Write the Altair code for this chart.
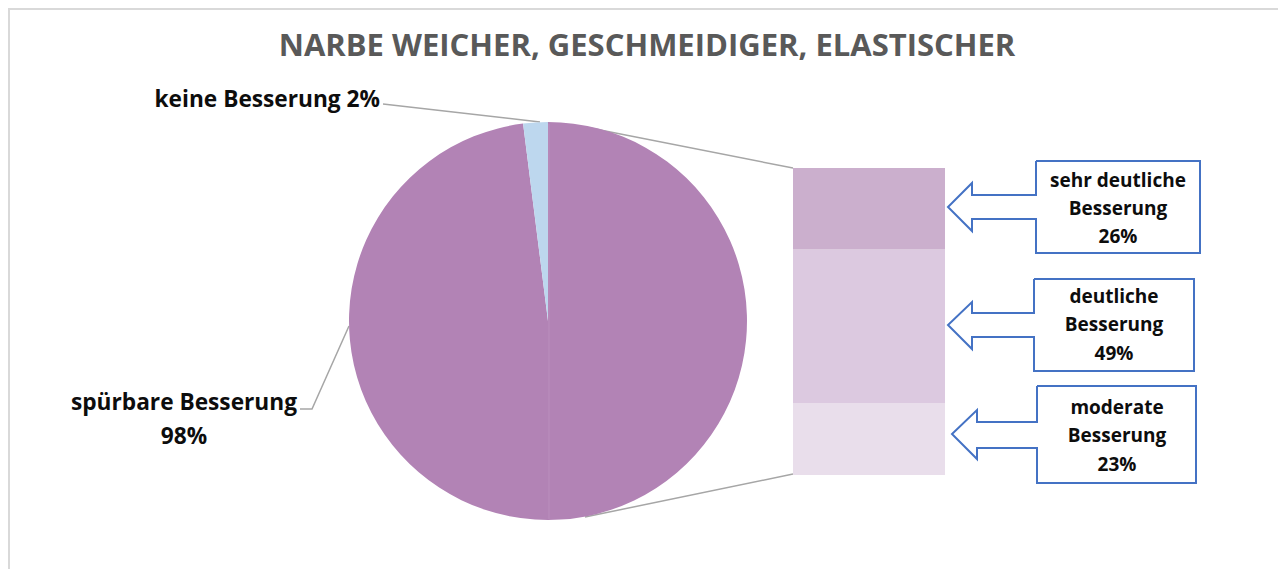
import altair as alt
import pandas as pd

# ---------------- data ----------------
title_text = "NARBE WEICHER, GESCHMEIDIGER, ELASTISCHER"

pie_cats = ["spürbare Besserung", "keine Besserung"]
pie_vals = [98, 2]
pie_colors = ["#B283B5", "#BDD7EE"]

bar_cats = ["moderate Besserung", "deutliche Besserung", "sehr deutliche Besserung"]
bar_vals = [23, 49, 26]
bar_colors = ["#E9DEEB", "#DCC9E0", "#CBAFCD"]

callout_lines = [
    ["sehr deutliche", "Besserung", "26%"],
    ["deutliche", "Besserung", "49%"],
    ["moderate", "Besserung", "23%"],
]

FONT = "Open Sans"

# ---------------- layout helpers (pixel coordinates of the page) ----------------
def PX():
    return alt.Scale(domain=[8, 1278], range=[0, 1270], nice=False, zero=False)


def PY():
    return alt.Scale(domain=[8, 569], range=[0, 561], nice=False, zero=False)


def X(f):
    return alt.X(f"{f}:Q", scale=PX(), axis=None)


def Y(f):
    return alt.Y(f"{f}:Q", scale=PY(), axis=None)


# ---------------- pie ----------------
pie_df = pd.DataFrame({"cat": pie_cats, "value": pie_vals, "idx": [0, 1]})
pie = alt.Chart(pie_df).mark_arc(outerRadius=199).encode(
    theta=alt.Theta("value:Q", stack=True),
    color=alt.Color("cat:N", scale=alt.Scale(domain=pie_cats, range=pie_colors), legend=None),
    order=alt.Order("idx:Q"),
    x=alt.value(540),
    y=alt.value(313),
)

# ---------------- bar (breakdown of spürbare Besserung) ----------------
bar_df = pd.DataFrame({"cat": bar_cats, "value": bar_vals, "idx": [0, 1, 2]})
bar = alt.Chart(bar_df).transform_stack(
    stack="value", groupby=[], as_=["v0", "v1"], sort=[alt.SortField("idx", order="ascending")]
).mark_rect().encode(
    x=alt.value(785),
    x2=alt.value(937),
    y=alt.Y("v0:Q",
            scale=alt.Scale(domain=[0, sum(bar_vals)], range=[467, 160], nice=False, zero=True),
            axis=None),
    y2="v1:Q",
    color=alt.Color("cat:N", scale=alt.Scale(domain=bar_cats, range=bar_colors), legend=None),
)

# ---------------- grey leader / connector lines ----------------
grey_pts = [
    ("keine", [(383, 104), (540, 122)]),
    ("spuer", [(300, 409), (312, 409), (349, 326)]),
    ("up", [(585, 127), (793, 168)]),
    ("low", [(585, 517), (793, 474)]),
]
rows = []
for g, pts in grey_pts:
    for i, (a, b) in enumerate(pts):
        rows.append({"g": g, "o": i, "px": a, "py": b})
grey = alt.Chart(pd.DataFrame(rows)).mark_line(color="#A6A6A6", strokeWidth=1.5).encode(
    x=X("px"), y=Y("py"), detail="g:N", order="o:Q"
)

# faint seam down the middle of the pie
seam = alt.Chart(pd.DataFrame({"g": ["s", "s"], "o": [0, 1], "px": [549, 549], "py": [124, 519]})).mark_line(
    color="#BA8EBD", strokeWidth=1
).encode(x=X("px"), y=Y("py"), detail="g:N", order="o:Q")

# ---------------- callout boxes with arrows ----------------
boxes = [
    # l, t, r, b, shaft top, shaft bottom, head x, head top, head bottom, tip x, tip y
    (1036, 161, 1200, 253, 195, 219, 972, 183, 231, 948, 207),
    (1034, 279, 1194, 371, 313, 337, 972, 302, 349, 948, 325),
    (1037, 386, 1196, 483, 422, 448, 977, 410, 459, 952, 434),
]
crow = []
for k, (l, t, r, b, st, sb, hx, ht, hb, tx, ty) in enumerate(boxes):
    pts = [(l, t), (r, t), (r, b), (l, b), (l, sb), (hx, sb), (hx, hb), (tx, ty),
           (hx, ht), (hx, st), (l, st), (l, t)]
    for i, (a, c) in enumerate(pts):
        crow.append({"g": k, "o": i, "px": a, "py": c})
callouts = alt.Chart(pd.DataFrame(crow)).mark_line(
    color="#4472C4", strokeWidth=2, strokeJoin="miter"
).encode(x=X("px"), y=Y("py"), detail="g:N", order="o:Q")

text_rows = []
line_y = [[181, 209, 237], [297, 325, 354], [408, 436, 465]]
line_x = [1118, 1114, 1117]
for k, lines in enumerate(callout_lines):
    for j, s in enumerate(lines):
        text_rows.append({"t": s, "px": line_x[k], "py": line_y[k][j]})
callout_text = alt.Chart(pd.DataFrame(text_rows)).mark_text(
    font=FONT, fontWeight="bold", fontSize=19, color="#0D0D0D", align="center", baseline="middle"
).encode(x=X("px"), y=Y("py"), text="t:N")

# ---------------- pie labels ----------------
right_labels = pd.DataFrame({
    "t": [f"{pie_cats[1].split()[0]} Besserung {pie_vals[1]}%", pie_cats[0]],
    "px": [380, 297],
    "py": [100, 403],
})
lab_right = alt.Chart(right_labels).mark_text(
    font=FONT, fontWeight="bold", fontSize=22.7, color="#0D0D0D", align="right", baseline="middle"
).encode(x=X("px"), y=Y("py"), text="t:N")

center_labels = pd.DataFrame({"t": [f"{pie_vals[0]}%"], "px": [184], "py": [437]})
lab_center = alt.Chart(center_labels).mark_text(
    font=FONT, fontWeight="bold", fontSize=22.7, color="#0D0D0D", align="center", baseline="middle"
).encode(x=X("px"), y=Y("py"), text="t:N")

title = alt.Chart(pd.DataFrame({"t": [title_text], "px": [647], "py": [47]})).mark_text(
    font=FONT, fontWeight="bold", fontSize=31, color="#595959", align="center", baseline="middle"
).encode(x=X("px"), y=Y("py"), text="t:N")

# thin frame lines (top/left)
frame = alt.Chart(pd.DataFrame({"g": ["a", "a", "a"], "o": [0, 1, 2],
                                "px": [9, 9, 1278], "py": [569, 9, 9]})).mark_line(
    color="#D9D9D9", strokeWidth=2
).encode(x=X("px"), y=Y("py"), detail="g:N", order="o:Q")

chart = alt.layer(
    frame, grey, bar, pie, seam, callouts, callout_text, lab_right, lab_center, title
).resolve_scale(
    x="independent", y="independent", color="independent", theta="independent"
).properties(
    width=1270, height=561, autosize=alt.AutoSizeParams(type="none"), padding=0,
    background="white"
).configure_view(stroke=None)

chart.save("out.html", embed_options={"renderer": "svg", "actions": False})
